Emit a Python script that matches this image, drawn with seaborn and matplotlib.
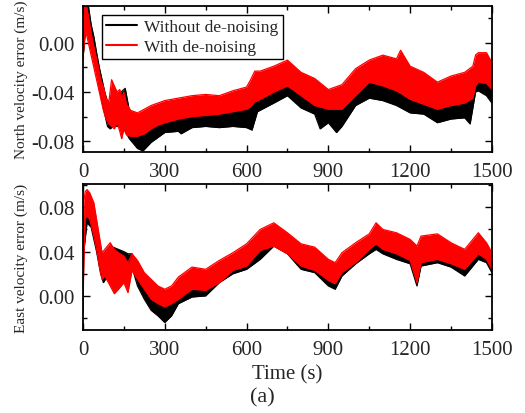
import numpy as np
import pandas as pd
import seaborn as sns
import matplotlib
matplotlib.use("Agg")
import matplotlib.pyplot as plt
from matplotlib.ticker import MultipleLocator, FormatStrFormatter
from matplotlib.lines import Line2D

# ---- North velocity error: envelopes of the noisy error band (m/s) ----
north_raw_t = [0, 10, 20, 30, 40, 50, 60, 70, 80, 90, 100, 110, 125, 140, 155,
               170, 200, 220, 250, 300, 350, 360, 400, 450, 500, 550, 600, 620,
               640, 700, 750, 800, 850, 870, 900, 930, 950, 1000, 1050, 1100,
               1150, 1200, 1250, 1300, 1350, 1400, 1420, 1440, 1450, 1480, 1500]
north_raw_low = [-0.013, 0.012, 0.008, -0.005, -0.012, -0.022, -0.035, -0.048,
                 -0.058, -0.068, -0.070, -0.068, -0.068, -0.065, -0.072, -0.078,
                 -0.086, -0.088, -0.081, -0.073, -0.072, -0.074, -0.069, -0.068,
                 -0.069, -0.068, -0.069, -0.071, -0.056, -0.049, -0.043, -0.053,
                 -0.058, -0.070, -0.065, -0.073, -0.068, -0.051, -0.045, -0.047,
                 -0.051, -0.057, -0.058, -0.065, -0.062, -0.061, -0.066, -0.040,
                 -0.039, -0.043, -0.049]
north_raw_high = [0.035, 0.035, 0.030, 0.015, 0.005, -0.008, -0.020, -0.030,
                  -0.040, -0.048, -0.050, -0.042, -0.045, -0.040, -0.037, -0.055,
                  -0.062, -0.064, -0.060, -0.056, -0.054, -0.054, -0.052, -0.051,
                  -0.050, -0.048, -0.045, -0.040, -0.036, -0.031, -0.026, -0.033,
                  -0.040, -0.045, -0.045, -0.046, -0.044, -0.032, -0.024, -0.026,
                  -0.030, -0.036, -0.040, -0.044, -0.041, -0.039, -0.040, -0.025,
                  -0.025, -0.028, -0.032]

north_den_t = [0, 8, 15, 25, 35, 45, 55, 65, 75, 85, 95, 105, 115, 125, 135,
               142, 150, 160, 175, 200, 225, 250, 275, 300, 350, 400, 450, 500,
               550, 600, 615, 630, 650, 700, 750, 800, 850, 900, 950, 1000,
               1050, 1100, 1150, 1165, 1200, 1250, 1300, 1350, 1400, 1430, 1440,
               1450, 1480, 1500]
north_den_low = [-0.013, 0.010, 0.005, -0.005, -0.015, -0.025, -0.035, -0.045,
                 -0.055, -0.062, -0.066, -0.068, -0.070, -0.065, -0.072, -0.078,
                 -0.070, -0.075, -0.076, -0.076, -0.074, -0.070, -0.067, -0.065,
                 -0.062, -0.060, -0.059, -0.058, -0.056, -0.054, -0.052, -0.048,
                 -0.046, -0.040, -0.035, -0.043, -0.051, -0.054, -0.054, -0.043,
                 -0.032, -0.035, -0.039, -0.041, -0.046, -0.050, -0.054, -0.051,
                 -0.049, -0.045, -0.035, -0.032, -0.033, -0.038]
north_den_high = [0.035, 0.035, 0.028, 0.015, 0.002, -0.008, -0.018, -0.030,
                  -0.036, -0.045, -0.048, -0.030, -0.035, -0.040, -0.038, -0.045,
                  -0.040, -0.050, -0.055, -0.057, -0.054, -0.051, -0.049, -0.047,
                  -0.045, -0.043, -0.042, -0.043, -0.039, -0.036, -0.030, -0.023,
                  -0.023, -0.019, -0.014, -0.024, -0.029, -0.038, -0.034, -0.021,
                  -0.014, -0.010, -0.013, -0.006, -0.019, -0.024, -0.032, -0.027,
                  -0.024, -0.019, -0.010, -0.008, -0.008, -0.016]

# ---- East velocity error envelopes (m/s) ----
east_raw_t = [0, 3, 15, 30, 50, 65, 75, 90, 110, 130, 150, 165, 180, 200, 225,
              250, 275, 300, 325, 350, 400, 450, 500, 550, 600, 650, 700, 750,
              800, 850, 900, 925, 950, 1000, 1050, 1075, 1100, 1150, 1200, 1225,
              1240, 1300, 1350, 1400, 1450, 1480, 1500]
east_raw_low = [-0.015, 0.040, 0.066, 0.062, 0.040, 0.020, 0.012, 0.018, 0.022,
                0.020, 0.022, 0.022, 0.026, 0.009, -0.003, -0.013, -0.018, -0.024,
                -0.018, -0.007, -0.001, 0.000, 0.012, 0.020, 0.024, 0.033, 0.045,
                0.038, 0.024, 0.021, 0.009, 0.006, 0.018, 0.029, 0.038, 0.042,
                0.038, 0.033, 0.029, 0.009, 0.027, 0.030, 0.026, 0.018, 0.033,
                0.030, 0.021]
east_raw_high = [0.040, 0.070, 0.076, 0.072, 0.055, 0.035, 0.030, 0.040, 0.044,
                 0.042, 0.040, 0.038, 0.038, 0.028, 0.015, 0.006, 0.000, -0.003,
                 0.000, 0.007, 0.014, 0.013, 0.020, 0.030, 0.034, 0.048, 0.055,
                 0.047, 0.036, 0.033, 0.022, 0.019, 0.029, 0.038, 0.048, 0.055,
                 0.050, 0.046, 0.040, 0.025, 0.040, 0.043, 0.038, 0.032, 0.050,
                 0.043, 0.032]

east_den_t = [0, 3, 8, 15, 25, 40, 50, 60, 70, 80, 100, 115, 130, 150, 165, 180,
              200, 225, 250, 275, 300, 325, 350, 400, 450, 500, 550, 600, 650,
              700, 750, 800, 850, 900, 925, 950, 1000, 1050, 1075, 1100, 1150,
              1200, 1225, 1240, 1300, 1350, 1400, 1450, 1480, 1500]
east_den_low = [-0.015, 0.030, 0.070, 0.072, 0.069, 0.054, 0.042, 0.027, 0.015,
                0.018, 0.009, 0.002, 0.006, 0.012, 0.003, 0.023, 0.015, 0.006,
                -0.003, -0.007, -0.010, -0.007, -0.003, 0.006, 0.005, 0.012,
                0.023, 0.027, 0.041, 0.045, 0.038, 0.027, 0.023, 0.014, 0.011,
                0.021, 0.030, 0.042, 0.047, 0.042, 0.038, 0.032, 0.012, 0.030,
                0.033, 0.029, 0.024, 0.038, 0.033, 0.024]
east_den_high = [0.045, 0.085, 0.094, 0.096, 0.093, 0.084, 0.069, 0.054, 0.039,
                 0.042, 0.048, 0.042, 0.039, 0.036, 0.030, 0.038, 0.032, 0.021,
                 0.015, 0.009, 0.006, 0.009, 0.017, 0.026, 0.024, 0.032, 0.039,
                 0.047, 0.060, 0.066, 0.057, 0.047, 0.044, 0.033, 0.030, 0.039,
                 0.048, 0.056, 0.066, 0.060, 0.057, 0.051, 0.045, 0.054, 0.056,
                 0.048, 0.042, 0.057, 0.048, 0.039]

x_ticks = [0, 300, 600, 900, 1200, 1500]
series_names = ["Without de-noising", "With de-noising"]
series_colors = ["#000000", "#ff0000"]

sns.set_theme(style="ticks")
plt.rcParams["font.family"] = ["Liberation Serif", "DejaVu Serif"]
plt.rcParams["axes.unicode_minus"] = False


def band(ax, t, low, high, color, z):
    df = pd.DataFrame({"t": t, "low": low, "high": high})
    ax.fill_between(df["t"], df["low"], df["high"], color=color, lw=0, zorder=z)
    for col in ("low", "high"):
        sns.lineplot(data=df, x="t", y=col, ax=ax, color=color, lw=0.9,
                     estimator=None, sort=False, zorder=z)


def style_axes(ax, ylim, ymajor, ylabel):
    ax.set_xlim(0, 1500)
    ax.set_ylim(*ylim)
    ax.set_xticks(x_ticks)
    ax.xaxis.set_minor_locator(MultipleLocator(150))
    ax.yaxis.set_major_locator(MultipleLocator(ymajor))
    ax.yaxis.set_minor_locator(MultipleLocator(ymajor / 2))
    ax.yaxis.set_major_formatter(FormatStrFormatter("%.2f"))
    ax.tick_params(which="both", direction="in", top=True, right=True,
                   color="black", width=1.0)
    ax.tick_params(which="major", length=5, labelsize=15, pad=6)
    ax.tick_params(axis="x", which="major", pad=7)
    ax.tick_params(which="minor", length=3)
    for sp in ax.spines.values():
        sp.set_visible(True)
        sp.set_color("black")
        sp.set_linewidth(1.3)
        sp.set_zorder(5)
    ax.set_xlabel("")
    ax.set_ylabel(ylabel, fontsize=11)
    ax.yaxis.set_label_coords(-0.135, 0.5)


fig = plt.figure(figsize=(5.25, 4.14), dpi=100)
ax1 = fig.add_axes([0.158, 0.630, 0.779, 0.353])
ax2 = fig.add_axes([0.158, 0.200, 0.779, 0.353])

band(ax1, north_raw_t, north_raw_low, north_raw_high, series_colors[0], 2)
band(ax1, north_den_t, north_den_low, north_den_high, series_colors[1], 3)
style_axes(ax1, (-0.089, 0.030), 0.04, "North velocity error (m/s)")

band(ax2, east_raw_t, east_raw_low, east_raw_high, series_colors[0], 2)
band(ax2, east_den_t, east_den_low, east_den_high, series_colors[1], 3)
style_axes(ax2, (-0.031, 0.101), 0.04, "East velocity error (m/s)")
ax2.set_xlabel("Time (s)", fontsize=15, labelpad=4)

handles = [Line2D([0], [0], color=c, lw=1.5) for c in series_colors]
leg = ax1.legend(handles, series_names, loc="upper left",
                 bbox_to_anchor=(0.046, 0.94), fontsize=12.5, frameon=True,
                 fancybox=False, handlelength=1.8, handletextpad=0.4,
                 borderpad=0.25, labelspacing=0.2, borderaxespad=0)
leg.get_frame().set_edgecolor("black")
leg.get_frame().set_linewidth(1.0)
leg.get_frame().set_alpha(1)
leg.set_zorder(6)

fig.text(0.5, 0.038, "(a)", ha="center", va="center", fontsize=16)

fig.savefig("out.png", dpi=100)
